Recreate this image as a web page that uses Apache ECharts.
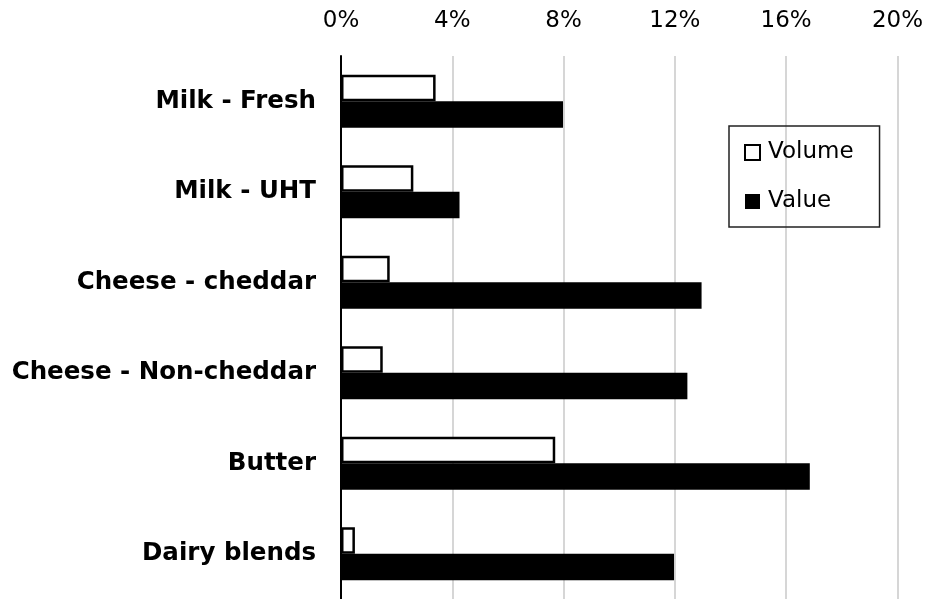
<!DOCTYPE html>
<html>
<head>
<meta charset="utf-8">
<style>
	html, body { margin: 0; padding: 0; background: #fff; }
	#chart { width: 926px; height: 599px; }
</style>
<script src="https://cdn.jsdelivr.net/npm/echarts@6/dist/echarts.min.js"></script>
</head>
<body>
<div id="chart"></div>
<script>
// categories top to bottom, values in percent
const categories = ["Milk - Fresh", "Milk - UHT", "Cheese - cheddar", "Cheese - Non-cheddar", "Butter", "Dairy blends"];
const volume = [3.4, 2.6, 1.75, 1.5, 7.7, 0.5];
const value = [7.98, 4.26, 12.96, 12.45, 16.85, 11.97];
const tickMin = 0;
const tickMax = 20;
const tickStep = 4;

const chart = echarts.init(document.getElementById("chart"));
const option = {
	animation: false,
	grid: { left: 341, right: 28, top: 56, bottom: 0, containLabel: false },
	legend: {
		orient: "vertical",
		left: 729,
		top: 126,
		padding: [15, 26, 14, 15],
		itemGap: 26,
		itemWidth: 15,
		itemHeight: 15,
		icon: "rect",
		borderColor: "#222",
		borderWidth: 1.5,
		textStyle: { fontFamily: "DejaVu Sans", fontSize: 23, color: "#000", padding: [0, 0, 0, 3] },
		data: ["Volume", "Value"]
	},
	xAxis: {
		type: "value",
		position: "top",
		min: tickMin,
		max: tickMax,
		interval: tickStep,
		axisLine: { show: false },
		axisTick: { show: false },
		axisLabel: {
			formatter: "{value}%",
			margin: 23,
			color: "#000",
			fontFamily: "DejaVu Sans",
			fontSize: 23
		},
		splitLine: { lineStyle: { color: "#c8c8c8", width: 1.5 } }
	},
	yAxis: {
		type: "category",
		inverse: true,
		data: categories,
		axisLine: { lineStyle: { color: "#000", width: 2 } },
		axisTick: { show: false },
		axisLabel: {
			margin: 25,
			color: "#000",
			fontFamily: "DejaVu Sans",
			fontWeight: "bold",
			fontSize: 24.5
		}
	},
	series: [
		{
			name: "Volume",
			type: "bar",
			barWidth: 26.5,
			barGap: "0%",
			itemStyle: { color: "#fff", borderColor: "#000", borderWidth: 2.5 },
			data: volume
		},
		{
			name: "Value",
			type: "bar",
			barWidth: 26.5,
			barGap: "0%",
			itemStyle: { color: "#000" },
			data: value
		}
	]
};
chart.setOption(option);
</script>
</body>
</html>
